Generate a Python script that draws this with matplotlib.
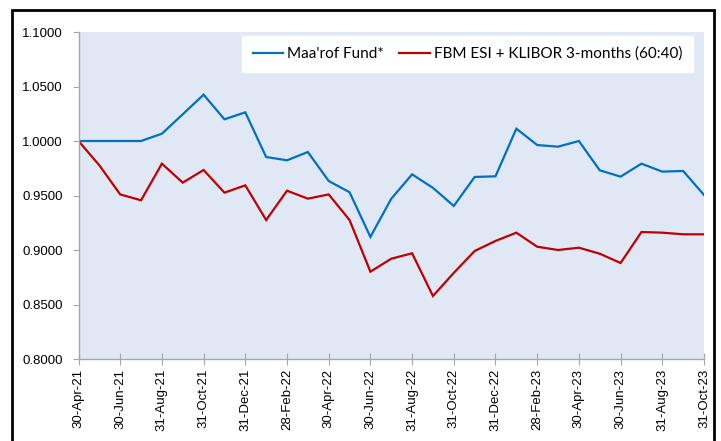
import matplotlib
matplotlib.use("Agg")
import matplotlib.pyplot as plt
from matplotlib.patches import Rectangle

dates = ["30-Apr-21", "31-May-21", "30-Jun-21", "31-Jul-21", "31-Aug-21", "30-Sep-21",
         "31-Oct-21", "30-Nov-21", "31-Dec-21", "31-Jan-22", "28-Feb-22", "31-Mar-22",
         "30-Apr-22", "31-May-22", "30-Jun-22", "31-Jul-22", "31-Aug-22", "30-Sep-22",
         "31-Oct-22", "30-Nov-22", "31-Dec-22", "31-Jan-23", "28-Feb-23", "31-Mar-23",
         "30-Apr-23", "31-May-23", "30-Jun-23", "31-Jul-23", "31-Aug-23", "30-Sep-23",
         "31-Oct-23"]

maarof_fund = [1.0000, 1.0000, 1.0000, 1.0000, 1.0067, 1.0245, 1.0425, 1.0199, 1.0263,
               0.9853, 0.9823, 0.9899, 0.9633, 0.9530, 0.9120, 0.9470, 0.9694, 0.9570,
               0.9404, 0.9670, 0.9676, 1.0113, 0.9963, 0.9948, 1.0000, 0.9731, 0.9673,
               0.9792, 0.9719, 0.9725, 0.9505]

benchmark = [1.0000, 0.9777, 0.9510, 0.9456, 0.9792, 0.9618, 0.9734, 0.9526, 0.9593,
             0.9275, 0.9544, 0.9471, 0.9510, 0.9275, 0.8801, 0.8920, 0.8970, 0.8578,
             0.8790, 0.8991, 0.9083, 0.9159, 0.9030, 0.9000, 0.9021, 0.8966, 0.8881,
             0.9165, 0.9159, 0.9144, 0.9144]

series_labels = ["Maa'rof Fund*", "FBM ESI + KLIBOR 3-months (60:40)"]
y_ticks = [0.80, 0.85, 0.90, 0.95, 1.00, 1.05, 1.10]

W, H = 721, 441
fig = plt.figure(figsize=(W / 100, H / 100), dpi=100)
fig.patch.set_facecolor("white")

# outer black frame
fig.patches.append(Rectangle((12 / W, -0.05), (714 - 12) / W, 1.05 - 10 / H,
                             transform=fig.transFigure, fill=False,
                             edgecolor="black", linewidth=2.0, zorder=10))

left, right, top, bottom = 78.5, 704, 32, 359
ax = fig.add_axes([left / W, 1 - bottom / H, (right - left) / W, (bottom - top) / H])
ax.set_facecolor("#E0E8F5")

x = list(range(len(dates)))
ax.plot(x, maarof_fund, color="#0070C0", linewidth=1.6, label=series_labels[0],
        solid_joinstyle="miter")
ax.plot(x, benchmark, color="#C00000", linewidth=1.6, label=series_labels[1],
        solid_joinstyle="miter")

ax.set_xlim(0, len(dates) - 1)
ax.set_ylim(0.80, 1.10)
ax.set_yticks(y_ticks)
ax.set_yticklabels([f"{v:.4f}" for v in y_ticks], fontsize=9.5,
                   family="Liberation Sans")
ax.set_xticks(x[::2])
ax.set_xticklabels(dates[::2], rotation=90, fontsize=9.5, family="Liberation Sans")

for s in ["top", "right"]:
    ax.spines[s].set_visible(False)
for s in ["left", "bottom"]:
    ax.spines[s].set_color("#A6A6A6")
    ax.spines[s].set_linewidth(1.0)
ax.tick_params(axis="y", direction="out", length=4.5, color="#A6A6A6", pad=7)
ax.tick_params(axis="x", direction="inout", length=8, color="#A6A6A6", pad=3)

leg = ax.legend(loc="upper right", ncol=2, frameon=True, fancybox=False,
                bbox_to_anchor=(0.982, 0.988), borderaxespad=0,
                prop={"family": "Lato", "size": 11}, handlelength=2.0,
                columnspacing=1.0, handletextpad=0.25, borderpad=0.7)
leg.get_frame().set_facecolor("white")
leg.get_frame().set_edgecolor("white")
leg.get_frame().set_alpha(1)

fig.savefig("out.png", dpi=100)
